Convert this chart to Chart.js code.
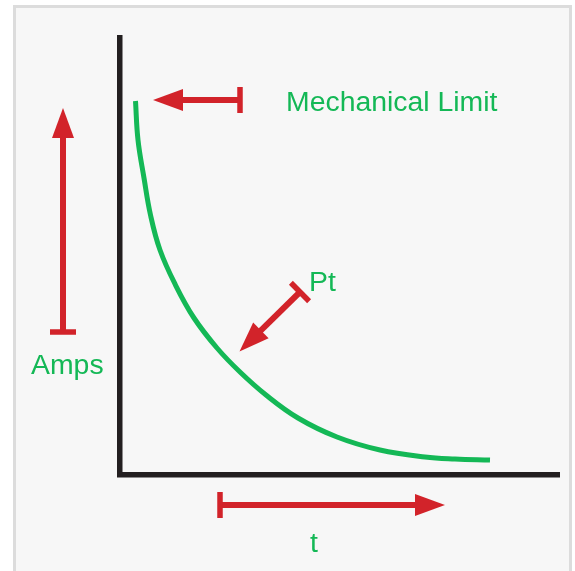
<!DOCTYPE html>
<html>
<head>
<meta charset="utf-8">
<script src="https://cdn.jsdelivr.net/npm/chart.js@4"></script>
<style>
  html, body { margin: 0; padding: 0; background: #fff; }
  #wrap { position: relative; width: 575px; height: 571px; overflow: hidden; }
  #box {
    position: absolute; left: 13px; top: 5px; width: 553px; height: 580px;
    background: #f7f7f7; border: 3px solid #dcdcdc;
  }
  #chart { position: absolute; left: 0; top: 0; }
</style>
</head>
<body>
<div id="wrap">
  <div id="box"></div>
  <canvas id="chart" width="575" height="571"></canvas>
</div>
<script>
// curve (x = time, y = amps)
const curveX = [15.5, 18, 24, 30.5, 40, 55.5, 74, 97, 120, 146, 178, 217, 260, 305, 335, 370];
const curveY = [374, 335, 297, 260, 225, 190, 157, 127, 103, 80, 57, 38, 25, 18, 16, 15];

// arrows: tail -> tip, in data units
const arrowTails = [[120, 375], [-57, 143], [180, 183], [100, -30]];
const arrowTips = [[33, 375], [-57, 367], [119.5, 123.5], [325, -30]];

// labels
const labelText = ["Mechanical Limit", "Pt", "Amps", "t"];
const labelPos = [[166, 364], [189, 184], [-89, 101], [190, -77]];

const RED = "#d2232a";
const GREEN = "#14b856";
const BLACK = "#231f20";

const points = curveX.map((x, i) => ({ x: x, y: curveY[i] }));

function drawArrow(ctx, x1, y1, x2, y2) {
  const ang = Math.atan2(y2 - y1, x2 - x1);
  const len = Math.hypot(x2 - x1, y2 - y1);
  const headLen = 30;
  const headHalf = 11;
  ctx.save();
  ctx.translate(x1, y1);
  ctx.rotate(ang);
  ctx.fillStyle = RED;
  // shaft
  ctx.fillRect(0, -3, len - headLen + 1, 6);
  // tail bar
  ctx.fillRect(-2.75, -13, 5.5, 26);
  // head
  ctx.beginPath();
  ctx.moveTo(len, 0);
  ctx.lineTo(len - headLen, -headHalf);
  ctx.lineTo(len - headLen, headHalf);
  ctx.closePath();
  ctx.fill();
  ctx.restore();
}

const annotations = {
  id: "annotations",
  afterDraw(chart) {
    const ctx = chart.ctx;
    const xs = chart.scales.x;
    const ys = chart.scales.y;
    arrowTails.forEach((t, i) => {
      const p = arrowTips[i];
      drawArrow(ctx,
        xs.getPixelForValue(t[0]), ys.getPixelForValue(t[1]),
        xs.getPixelForValue(p[0]), ys.getPixelForValue(p[1]));
    });
    ctx.save();
    ctx.fillStyle = GREEN;
    ctx.font = '28.4px "Liberation Sans", Arial, sans-serif';
    ctx.textAlign = "left";
    ctx.textBaseline = "alphabetic";
    labelText.forEach((txt, i) => {
      ctx.fillText(txt, xs.getPixelForValue(labelPos[i][0]), ys.getPixelForValue(labelPos[i][1]));
    });
    ctx.restore();
  }
};

new Chart(document.getElementById("chart"), {
  type: "scatter",
  data: {
    datasets: [
      {
        data: points,
        showLine: true,
        borderColor: GREEN,
        borderWidth: 5,
        pointRadius: 0,
        tension: 0.4,
        fill: false,
      },
    ],
  },
  options: {
    responsive: false,
    animation: false,
    layout: { padding: { left: 120, right: 16, top: 38, bottom: 96 } },
    plugins: {
      legend: { display: false },
      tooltip: { enabled: false },
    },
    scales: {
      x: {
        type: "linear",
        min: 0,
        max: 439,
        grid: { display: true, color: "transparent", drawTicks: false },
        ticks: { display: false },
        border: { display: true, color: BLACK, width: 5.5 },
        afterFit: (s) => { s.height = 0; },
      },
      y: {
        type: "linear",
        min: 0,
        max: 437,
        grid: { display: true, color: "transparent", drawTicks: false },
        ticks: { display: false },
        border: { display: true, color: BLACK, width: 5.5 },
        afterFit: (s) => { s.width = 0; },
      },
    },
  },
  plugins: [annotations],
});
</script>
</body>
</html>
